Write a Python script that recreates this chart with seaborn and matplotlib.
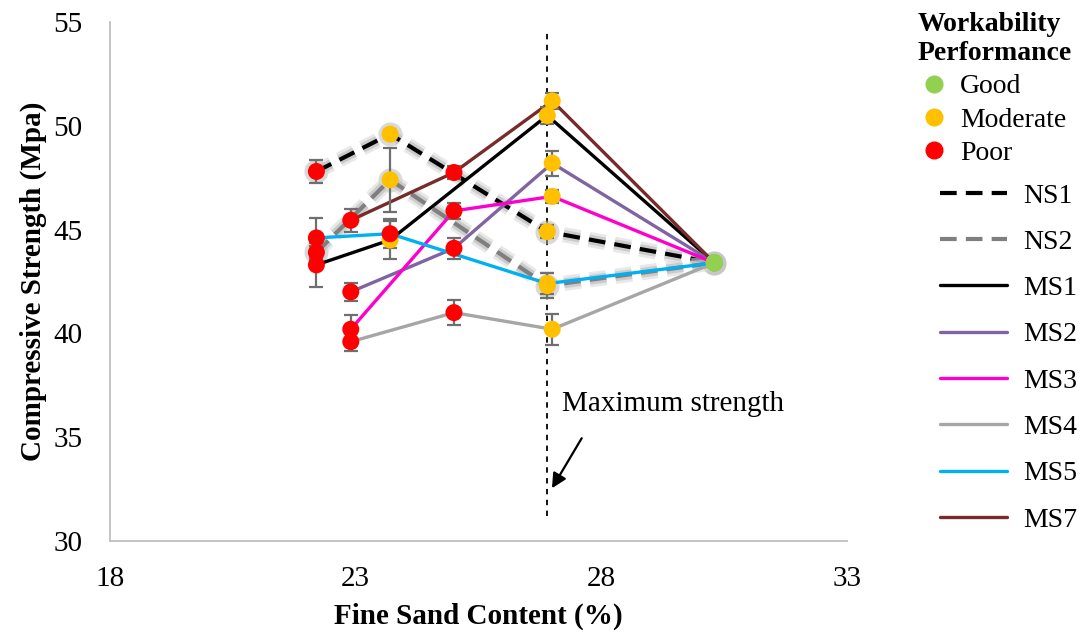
import pandas as pd
import matplotlib.pyplot as plt
import matplotlib.patheffects as pe
from matplotlib.lines import Line2D
import seaborn as sns

sns.set_style("white")
plt.rcParams['font.family'] = ['Liberation Serif', 'DejaVu Serif']
plt.rcParams['text.color'] = 'black'
plt.rcParams['axes.labelcolor'] = 'black'
plt.rcParams['xtick.color'] = 'black'
plt.rcParams['ytick.color'] = 'black'

# values
series_names = ["NS1", "NS2", "MS1", "MS2", "MS3", "MS4", "MS5", "MS7"]
sand = {
    "NS1": [22.2, 23.7, 26.9, 30.3],
    "NS2": [22.2, 23.7, 26.9, 30.3],
    "MS1": [22.2, 23.7, 26.9, 30.3],
    "MS2": [22.9, 25.0, 27.0, 30.3],
    "MS3": [22.9, 25.0, 27.0, 30.3],
    "MS4": [22.9, 25.0, 27.0, 30.3],
    "MS5": [22.2, 23.7, 26.9, 30.3],
    "MS7": [22.9, 25.0, 27.0, 30.3],
}
strength = {
    "NS1": [47.8, 49.6, 44.9, 43.4],
    "NS2": [43.9, 47.4, 42.3, 43.4],
    "MS1": [43.3, 44.5, 50.5, 43.4],
    "MS2": [42.0, 44.1, 48.2, 43.4],
    "MS3": [40.2, 45.9, 46.6, 43.4],
    "MS4": [39.6, 41.0, 40.2, 43.4],
    "MS5": [44.6, 44.8, 42.4, 43.4],
    "MS7": [45.45, 47.75, 51.2, 43.4],
}
error = {
    "NS1": [0.55, 0.2, 0.3, 0.0],
    "NS2": [0.3, 1.55, 0.6, 0.0],
    "MS1": [1.05, 0.9, 0.4, 0.0],
    "MS2": [0.45, 0.5, 0.6, 0.0],
    "MS3": [0.7, 0.4, 0.3, 0.0],
    "MS4": [0.45, 0.6, 0.75, 0.0],
    "MS5": [0.95, 0.7, 0.5, 0.0],
    "MS7": [0.55, 0.3, 0.4, 0.0],
}
workability = {
    "NS1": ["Poor", "Moderate", "Moderate", "Good"],
    "NS2": ["Poor", "Moderate", "Moderate", "Good"],
    "MS1": ["Poor", "Moderate", "Moderate", "Good"],
    "MS2": ["Poor", "Poor", "Moderate", "Good"],
    "MS3": ["Poor", "Poor", "Moderate", "Good"],
    "MS4": ["Poor", "Poor", "Moderate", "Good"],
    "MS5": ["Poor", "Poor", "Moderate", "Good"],
    "MS7": ["Poor", "Poor", "Moderate", "Good"],
}
work_levels = ["Good", "Moderate", "Poor"]
max_strength_x = 26.9

line_colors = {"NS1": "black", "NS2": "#7f7f7f", "MS1": "black", "MS2": "#8064a2",
               "MS3": "#ff00cc", "MS4": "#a6a6a6", "MS5": "#00b0f0", "MS7": "#772c2a"}
work_colors = {"Good": "#92d050", "Moderate": "#ffc000", "Poor": "#ff0000"}
dash = (0, (4, 2.2))

rows = []
for name in series_names:
    for x, y, e, w in zip(sand[name], strength[name], error[name], workability[name]):
        rows.append({"series": name, "sand": x, "strength": y, "err": e, "work": w})
df = pd.DataFrame(rows)

fig = plt.figure(figsize=(10.83, 6.34), dpi=100)
ax = fig.add_axes([0.1016, 0.1467, 0.6805, 0.8186])

glow = [pe.Stroke(linewidth=11, foreground="#d9d9d9", alpha=0.6),
        pe.Stroke(linewidth=7, foreground="#bfbfbf", alpha=0.7),
        pe.Normal()]

ax.vlines(max_strength_x, 31.2, 54.6, colors="black", linestyles=(0, (3, 3)), lw=1.3, zorder=1)

for name in series_names:
    sub = df[df.series == name]
    is_ns = name.startswith("NS")
    sns.lineplot(data=sub, x="sand", y="strength", color=line_colors[name], sort=False,
                 estimator=None, ax=ax, lw=3 if is_ns else 2.4,
                 linestyle=dash if is_ns else "-",
                 path_effects=glow if is_ns else None, zorder=3)

ns = df[df.series.str.startswith("NS")]
sns.scatterplot(data=ns, x="sand", y="strength", color="#b5b5b5", s=300, alpha=0.5,
                linewidth=0, ax=ax, legend=False, zorder=2)

ax.errorbar(df.sand, df.strength, yerr=df.err, fmt="none", ecolor="#6f6f6f",
            elinewidth=1.6, capsize=5, capthick=1.6, zorder=4)

sns.scatterplot(data=df, x="sand", y="strength", hue="work", palette=work_colors,
                hue_order=work_levels, s=150, linewidth=0, ax=ax, legend=False, zorder=6)

ax.text(27.2, 36.6, "Maximum strength", fontsize=21, va="center", ha="left")
ax.annotate("", xy=(26.995, 32.54), xytext=(27.6, 34.95),
            arrowprops=dict(arrowstyle="-|>", color="black", lw=1.6, mutation_scale=22,
                            shrinkA=0, shrinkB=0))

ax.set_xlim(18, 33)
ax.set_ylim(30, 55)
ax.set_xticks([18, 23, 28, 33])
ax.set_yticks([30, 35, 40, 45, 50, 55])
ax.tick_params(axis="both", labelsize=21, length=0)
ax.tick_params(axis="x", pad=18)
ax.tick_params(axis="y", pad=20)
ax.set_xlabel("Fine Sand Content (%)", fontsize=21, fontweight="bold", labelpad=8)
ax.set_ylabel("Compressive Strength (Mpa)", fontsize=21, fontweight="bold", labelpad=4)
sns.despine(ax=ax)
for sp in ["left", "bottom"]:
    ax.spines[sp].set_color("#bfbfbf")
    ax.spines[sp].set_linewidth(1.3)

marker_handles = [Line2D([], [], marker="o", ls="none", markersize=12, color=work_colors[w],
                         label=w) for w in work_levels]
leg1 = fig.legend(handles=marker_handles, title="Workability\nPerformance", loc="upper left",
                  bbox_to_anchor=(0.829, 1.012), frameon=False, fontsize=20, labelspacing=0.28,
                  handlelength=0.8, handletextpad=0.55, borderpad=0.2,
                  title_fontproperties={"weight": "bold", "size": 20})
leg1._legend_box.sep = 6

line_handles = [Line2D([], [], color=line_colors[n], lw=3 if n.startswith("NS") else 2.4,
                       ls=dash if n.startswith("NS") else "-", label=n) for n in series_names]
fig.legend(handles=line_handles, loc="upper left", bbox_to_anchor=(0.855, 0.733),
           frameon=False, fontsize=20, labelspacing=0.75, handlelength=2.4,
           handletextpad=0.6, borderpad=0)

fig.savefig("out.png", dpi=100)
